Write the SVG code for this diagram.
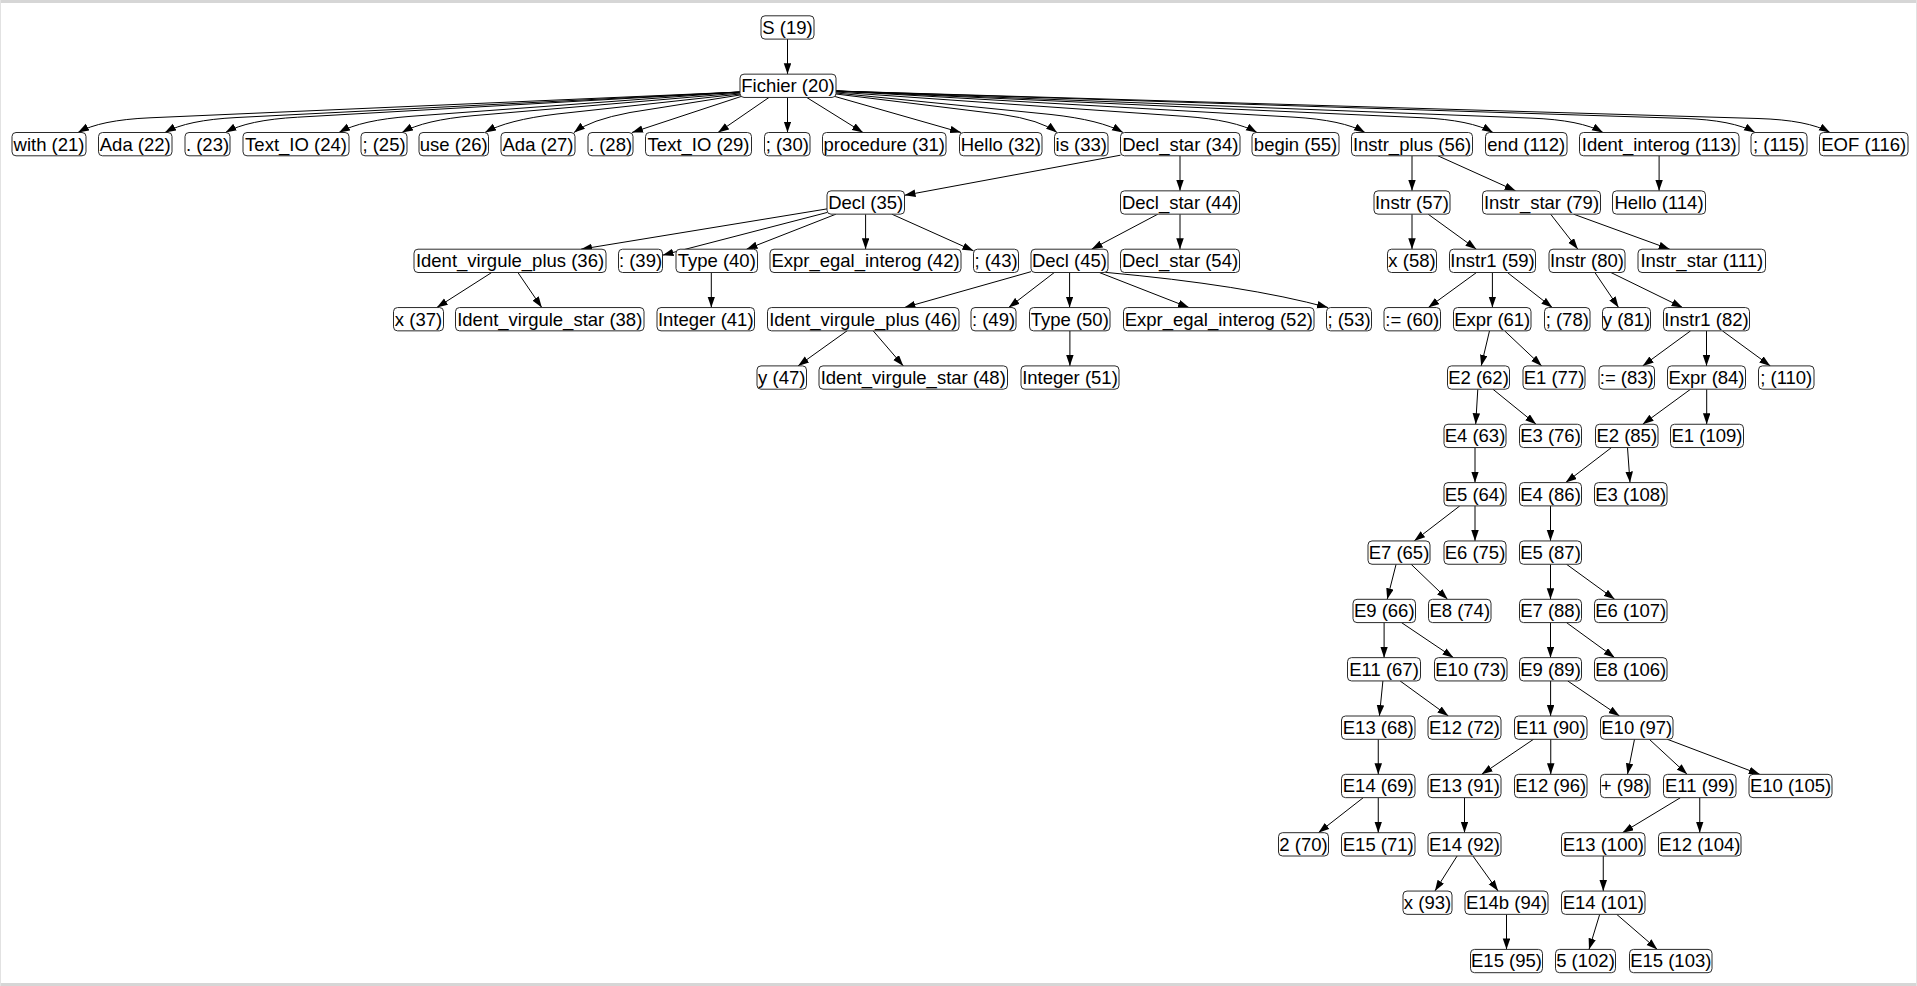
<svg xmlns="http://www.w3.org/2000/svg" width="1917" height="986" viewBox="0 0 1917 986">
<style>
.node rect{fill:#fff;stroke:#2a2a2a;stroke-width:1;}
.node text{font-family:"Liberation Sans",Arial,sans-serif;font-size:18.5px;fill:#000;text-anchor:middle;}
.edges path{fill:none;stroke:#000;stroke-width:1;marker-end:url(#ah);}
</style>
<defs>
<marker id="ah" markerWidth="11" markerHeight="8" refX="11" refY="3.75" orient="auto" markerUnits="userSpaceOnUse"><path d="M0,0 L11,3.75 L0,7.5 z" fill="#000"/></marker>
</defs>
<rect x="0" y="0" width="1917" height="986" fill="#fff"/>
<rect x="0" y="0" width="1917" height="3" fill="#d6d6d6"/>
<rect x="0" y="983" width="1917" height="3" fill="#d6d6d6"/>
<rect x="0" y="0" width="1" height="986" fill="#e2e2e2"/>
<rect x="1916" y="0" width="1" height="986" fill="#e2e2e2"/>
<g class="edges" id="edges">
<path d="M787.5,39.1 L787.5,74.15"/>
<path d="M740,92 L150,117.8 Q100,120 78,132.5"/>
<path d="M740,92 L237,117.5 Q187,120 165,132.5"/>
<path d="M740,92 L297.5,117.2 Q247.5,120 225.5,132.5"/>
<path d="M740,92 L411,116.3 Q361,120 339,132.5"/>
<path d="M740,93 L474,115.6 Q424,120 402,132.5"/>
<path d="M740,94 L557,114 Q507,120 485,132.5"/>
<path d="M740,95 L630,112.5 Q590,120 574,132.5"/>
<path d="M741,96.5 L632,132.5"/>
<path d="M769,97.45 L718,132.5"/>
<path d="M787.5,97.45 L787.5,132.5"/>
<path d="M806.7,97.45 L863,132.5"/>
<path d="M835,96.5 L961,132.5"/>
<path d="M836,94 L1001,114.3 Q1041,120 1057,132.5"/>
<path d="M836,93 L1051,114.5 Q1101,120 1123,132.5"/>
<path d="M836,92 L1185,116.4 Q1235,120 1257,132.5"/>
<path d="M836,91 L1293,117.1 Q1343,120 1365,132.5"/>
<path d="M836,91 L1421,117.7 Q1471,120 1493,132.5"/>
<path d="M836,91 L1531,118.1 Q1581,120 1603,132.5"/>
<path d="M836,91 L1683,118.4 Q1733,120 1755,132.5"/>
<path d="M836,91 L1758,118.5 Q1808,120 1830,132.5"/>
<path d="M1120.5,155.2 L904.5,195.3"/>
<path d="M1180,155.8 L1180,190.85"/>
<path d="M827,208.9 L581,249.2"/>
<path d="M827,212.5 L662.5,255.2"/>
<path d="M836,214.15 L746.5,249.2"/>
<path d="M865.6,214.15 L865.6,249.2"/>
<path d="M891.8,214.15 L973.5,250.8"/>
<path d="M1157.9,214.15 L1091.6,249.2"/>
<path d="M1180,214.15 L1180,249.2"/>
<path d="M1412,155.8 L1412,190.85"/>
<path d="M1437.9,155.8 L1515.6,190.85"/>
<path d="M1659.1,155.8 L1659.1,190.85"/>
<path d="M491.7,272.5 L436.8,307.55"/>
<path d="M517.9,272.5 L541.8,307.55"/>
<path d="M711.3,272.5 L711.3,307.55"/>
<path d="M1031,271.7 L904.4,307.55"/>
<path d="M1054.3,272.5 L1008.7,307.55"/>
<path d="M1069.6,272.5 L1069.6,307.55"/>
<path d="M1099.3,272.5 L1189,307.55"/>
<path d="M1105,272.3 Q1245,285 1328,307.55"/>
<path d="M1412,214.15 L1412,249.2"/>
<path d="M1428.1,214.15 L1476.4,249.2"/>
<path d="M1550.6,214.15 L1577.9,249.2"/>
<path d="M1573.5,214.15 L1669.75,249.2"/>
<path d="M1476.5,272.5 L1428.3,307.55"/>
<path d="M1492.4,272.5 L1492.4,307.55"/>
<path d="M1507.4,272.5 L1552.3,307.55"/>
<path d="M1594.9,272.5 L1618.6,307.55"/>
<path d="M1610.9,272.5 L1682.6,307.55"/>
<path d="M847,330.85 L798,365.9"/>
<path d="M873.2,330.85 L903.3,365.9"/>
<path d="M1069.9,330.85 L1069.9,365.9"/>
<path d="M1489.5,330.85 L1481.2,365.9"/>
<path d="M1504.6,330.85 L1541.7,365.9"/>
<path d="M1690.6,330.85 L1642.7,365.9"/>
<path d="M1706.5,330.85 L1706.5,365.9"/>
<path d="M1722.4,330.85 L1770.3,365.9"/>
<path d="M1477.8,389.2 L1475.7,424.25"/>
<path d="M1492.9,389.2 L1536.1,424.25"/>
<path d="M1690.6,389.2 L1642.7,424.25"/>
<path d="M1706.7,389.2 L1706.7,424.25"/>
<path d="M1475,447.55 L1475,482.6"/>
<path d="M1611.5,447.55 L1565.7,482.6"/>
<path d="M1627.5,447.55 L1630,482.6"/>
<path d="M1459.8,505.9 L1414.2,540.95"/>
<path d="M1475,505.9 L1475,540.95"/>
<path d="M1550.5,505.9 L1550.5,540.95"/>
<path d="M1396.1,564.25 L1387.2,599.3"/>
<path d="M1411.1,564.25 L1447.6,599.3"/>
<path d="M1550.5,564.25 L1550.5,599.3"/>
<path d="M1566.5,564.25 L1614.7,599.3"/>
<path d="M1384.1,622.6 L1384.1,657.65"/>
<path d="M1401.5,622.6 L1453.5,657.65"/>
<path d="M1550.5,622.6 L1550.5,657.65"/>
<path d="M1566.5,622.6 L1614.7,657.65"/>
<path d="M1382.9,680.95 L1379.4,716"/>
<path d="M1400.1,680.95 L1448.4,716"/>
<path d="M1550.6,680.95 L1550.6,716"/>
<path d="M1567.7,680.95 L1619.5,716"/>
<path d="M1378.25,739.3 L1378.25,774.35"/>
<path d="M1533.5,739.3 L1481.7,774.35"/>
<path d="M1550.75,739.3 L1550.75,774.35"/>
<path d="M1634.5,739.3 L1627.5,774.35"/>
<path d="M1649.3,739.3 L1687.2,774.35"/>
<path d="M1667.4,739.3 L1759.8,774.35"/>
<path d="M1363.3,797.65 L1318.4,832.7"/>
<path d="M1378.25,797.65 L1378.25,832.7"/>
<path d="M1464.5,797.65 L1464.5,832.7"/>
<path d="M1680.5,797.65 L1622.5,832.7"/>
<path d="M1699.75,797.65 L1699.75,832.7"/>
<path d="M1457.1,856 L1434.9,891.05"/>
<path d="M1472.9,856 L1498.1,891.05"/>
<path d="M1603.25,856 L1603.25,891.05"/>
<path d="M1506.5,914.35 L1506.5,949.4"/>
<path d="M1599.7,914.35 L1589,949.4"/>
<path d="M1616.7,914.35 L1657.3,949.4"/>
</g>
<g id="n19" class="node"><rect x="761" y="15.8" width="53" height="23.3" rx="4"/><text x="787.5" y="33.8">S (19)</text></g>
<g id="n20" class="node"><rect x="740" y="74.15" width="96" height="23.3" rx="4"/><text x="788" y="92.15">Fichier (20)</text></g>
<g id="n21" class="node"><rect x="12" y="132.5" width="74" height="23.3" rx="4"/><text x="49" y="150.5">with (21)</text></g>
<g id="n22" class="node"><rect x="98.5" y="132.5" width="73.5" height="23.3" rx="4"/><text x="135.25" y="150.5">Ada (22)</text></g>
<g id="n23" class="node"><rect x="185" y="132.5" width="45" height="23.3" rx="4"/><text x="207.5" y="150.5">. (23)</text></g>
<g id="n24" class="node"><rect x="243" y="132.5" width="106" height="23.3" rx="4"/><text x="296" y="150.5">Text_IO (24)</text></g>
<g id="n25" class="node"><rect x="361" y="132.5" width="46" height="23.3" rx="4"/><text x="384" y="150.5">; (25)</text></g>
<g id="n26" class="node"><rect x="419" y="132.5" width="69.5" height="23.3" rx="4"/><text x="453.75" y="150.5">use (26)</text></g>
<g id="n27" class="node"><rect x="501" y="132.5" width="74" height="23.3" rx="4"/><text x="538" y="150.5">Ada (27)</text></g>
<g id="n28" class="node"><rect x="588" y="132.5" width="45" height="23.3" rx="4"/><text x="610.5" y="150.5">. (28)</text></g>
<g id="n29" class="node"><rect x="645.5" y="132.5" width="106" height="23.3" rx="4"/><text x="698.5" y="150.5">Text_IO (29)</text></g>
<g id="n30" class="node"><rect x="764.5" y="132.5" width="45.5" height="23.3" rx="4"/><text x="787.25" y="150.5">; (30)</text></g>
<g id="n31" class="node"><rect x="822.5" y="132.5" width="123.5" height="23.3" rx="4"/><text x="884.25" y="150.5">procedure (31)</text></g>
<g id="n32" class="node"><rect x="959.5" y="132.5" width="82.5" height="23.3" rx="4"/><text x="1000.75" y="150.5">Hello (32)</text></g>
<g id="n33" class="node"><rect x="1054.5" y="132.5" width="53.5" height="23.3" rx="4"/><text x="1081.25" y="150.5">is (33)</text></g>
<g id="n34" class="node"><rect x="1120.5" y="132.5" width="119.5" height="23.3" rx="4"/><text x="1180.25" y="150.5">Decl_star (34)</text></g>
<g id="n55" class="node"><rect x="1252" y="132.5" width="87" height="23.3" rx="4"/><text x="1295.5" y="150.5">begin (55)</text></g>
<g id="n56" class="node"><rect x="1351.5" y="132.5" width="121" height="23.3" rx="4"/><text x="1412" y="150.5">Instr_plus (56)</text></g>
<g id="n112" class="node"><rect x="1485.5" y="132.5" width="81.5" height="23.3" rx="4"/><text x="1526.25" y="150.5">end (112)</text></g>
<g id="n113" class="node"><rect x="1579.5" y="132.5" width="159.5" height="23.3" rx="4"/><text x="1659.25" y="150.5">Ident_interog (113)</text></g>
<g id="n115" class="node"><rect x="1751" y="132.5" width="56" height="23.3" rx="4"/><text x="1779" y="150.5">; (115)</text></g>
<g id="n116" class="node"><rect x="1819.5" y="132.5" width="88.5" height="23.3" rx="4"/><text x="1863.75" y="150.5">EOF (116)</text></g>
<g id="n35" class="node"><rect x="827" y="190.85" width="77.5" height="23.3" rx="4"/><text x="865.75" y="208.85">Decl (35)</text></g>
<g id="n44" class="node"><rect x="1120.5" y="190.85" width="119" height="23.3" rx="4"/><text x="1180" y="208.85">Decl_star (44)</text></g>
<g id="n57" class="node"><rect x="1374" y="190.85" width="76" height="23.3" rx="4"/><text x="1412" y="208.85">Instr (57)</text></g>
<g id="n79" class="node"><rect x="1482.5" y="190.85" width="118" height="23.3" rx="4"/><text x="1541.5" y="208.85">Instr_star (79)</text></g>
<g id="n114" class="node"><rect x="1612.5" y="190.85" width="93" height="23.3" rx="4"/><text x="1659" y="208.85">Hello (114)</text></g>
<g id="n36" class="node"><rect x="414" y="249.2" width="192" height="23.3" rx="4"/><text x="510" y="267.2">Ident_virgule_plus (36)</text></g>
<g id="n39" class="node"><rect x="618.5" y="249.2" width="44" height="23.3" rx="4"/><text x="640.5" y="267.2">: (39)</text></g>
<g id="n40" class="node"><rect x="676" y="249.2" width="81.5" height="23.3" rx="4"/><text x="716.75" y="267.2">Type (40)</text></g>
<g id="n42" class="node"><rect x="770" y="249.2" width="191" height="23.3" rx="4"/><text x="865.5" y="267.2">Expr_egal_interog (42)</text></g>
<g id="n43" class="node"><rect x="973.5" y="249.2" width="45" height="23.3" rx="4"/><text x="996" y="267.2">; (43)</text></g>
<g id="n45" class="node"><rect x="1031" y="249.2" width="77" height="23.3" rx="4"/><text x="1069.5" y="267.2">Decl (45)</text></g>
<g id="n54" class="node"><rect x="1120.5" y="249.2" width="119" height="23.3" rx="4"/><text x="1180" y="267.2">Decl_star (54)</text></g>
<g id="n58" class="node"><rect x="1387.5" y="249.2" width="49" height="23.3" rx="4"/><text x="1412" y="267.2">x (58)</text></g>
<g id="n59" class="node"><rect x="1449.5" y="249.2" width="86" height="23.3" rx="4"/><text x="1492.5" y="267.2">Instr1 (59)</text></g>
<g id="n80" class="node"><rect x="1549" y="249.2" width="76" height="23.3" rx="4"/><text x="1587" y="267.2">Instr (80)</text></g>
<g id="n111" class="node"><rect x="1638" y="249.2" width="127.5" height="23.3" rx="4"/><text x="1701.75" y="267.2">Instr_star (111)</text></g>
<g id="n37" class="node"><rect x="393.5" y="307.55" width="50" height="23.3" rx="4"/><text x="418.5" y="325.55">x (37)</text></g>
<g id="n38" class="node"><rect x="455.5" y="307.55" width="188.5" height="23.3" rx="4"/><text x="549.75" y="325.55">Ident_virgule_star (38)</text></g>
<g id="n41" class="node"><rect x="657" y="307.55" width="97.5" height="23.3" rx="4"/><text x="705.75" y="325.55">Integer (41)</text></g>
<g id="n46" class="node"><rect x="767.5" y="307.55" width="191.5" height="23.3" rx="4"/><text x="863.25" y="325.55">Ident_virgule_plus (46)</text></g>
<g id="n49" class="node"><rect x="971" y="307.55" width="45" height="23.3" rx="4"/><text x="993.5" y="325.55">: (49)</text></g>
<g id="n50" class="node"><rect x="1029.5" y="307.55" width="80.5" height="23.3" rx="4"/><text x="1069.75" y="325.55">Type (50)</text></g>
<g id="n52" class="node"><rect x="1123.5" y="307.55" width="190.5" height="23.3" rx="4"/><text x="1218.75" y="325.55">Expr_egal_interog (52)</text></g>
<g id="n53" class="node"><rect x="1326.5" y="307.55" width="45" height="23.3" rx="4"/><text x="1349" y="325.55">; (53)</text></g>
<g id="n60" class="node"><rect x="1384" y="307.55" width="56.5" height="23.3" rx="4"/><text x="1412.25" y="325.55">:= (60)</text></g>
<g id="n61" class="node"><rect x="1453.5" y="307.55" width="77.5" height="23.3" rx="4"/><text x="1492.25" y="325.55">Expr (61)</text></g>
<g id="n78" class="node"><rect x="1544.5" y="307.55" width="45.5" height="23.3" rx="4"/><text x="1567.25" y="325.55">; (78)</text></g>
<g id="n81" class="node"><rect x="1602.5" y="307.55" width="48" height="23.3" rx="4"/><text x="1626.5" y="325.55">y (81)</text></g>
<g id="n82" class="node"><rect x="1663.5" y="307.55" width="86" height="23.3" rx="4"/><text x="1706.5" y="325.55">Instr1 (82)</text></g>
<g id="n47" class="node"><rect x="757" y="365.9" width="49.5" height="23.3" rx="4"/><text x="781.75" y="383.9">y (47)</text></g>
<g id="n48" class="node"><rect x="819" y="365.9" width="188.5" height="23.3" rx="4"/><text x="913.25" y="383.9">Ident_virgule_star (48)</text></g>
<g id="n51" class="node"><rect x="1021" y="365.9" width="98" height="23.3" rx="4"/><text x="1070" y="383.9">Integer (51)</text></g>
<g id="n62" class="node"><rect x="1447.5" y="365.9" width="62" height="23.3" rx="4"/><text x="1478.5" y="383.9">E2 (62)</text></g>
<g id="n77" class="node"><rect x="1523" y="365.9" width="62" height="23.3" rx="4"/><text x="1554" y="383.9">E1 (77)</text></g>
<g id="n83" class="node"><rect x="1599" y="365.9" width="55.5" height="23.3" rx="4"/><text x="1626.75" y="383.9">:= (83)</text></g>
<g id="n84" class="node"><rect x="1667.5" y="365.9" width="78" height="23.3" rx="4"/><text x="1706.5" y="383.9">Expr (84)</text></g>
<g id="n110" class="node"><rect x="1758.5" y="365.9" width="55.5" height="23.3" rx="4"/><text x="1786.25" y="383.9">; (110)</text></g>
<g id="n63" class="node"><rect x="1444" y="424.25" width="62" height="23.3" rx="4"/><text x="1475" y="442.25">E4 (63)</text></g>
<g id="n76" class="node"><rect x="1519.5" y="424.25" width="62" height="23.3" rx="4"/><text x="1550.5" y="442.25">E3 (76)</text></g>
<g id="n85" class="node"><rect x="1595.5" y="424.25" width="62.5" height="23.3" rx="4"/><text x="1626.75" y="442.25">E2 (85)</text></g>
<g id="n109" class="node"><rect x="1670.5" y="424.25" width="73" height="23.3" rx="4"/><text x="1707" y="442.25">E1 (109)</text></g>
<g id="n64" class="node"><rect x="1444" y="482.6" width="62" height="23.3" rx="4"/><text x="1475" y="500.6">E5 (64)</text></g>
<g id="n86" class="node"><rect x="1519.5" y="482.6" width="62" height="23.3" rx="4"/><text x="1550.5" y="500.6">E4 (86)</text></g>
<g id="n108" class="node"><rect x="1594.5" y="482.6" width="72.5" height="23.3" rx="4"/><text x="1630.75" y="500.6">E3 (108)</text></g>
<g id="n65" class="node"><rect x="1368" y="540.95" width="62" height="23.3" rx="4"/><text x="1399" y="558.95">E7 (65)</text></g>
<g id="n75" class="node"><rect x="1444" y="540.95" width="62" height="23.3" rx="4"/><text x="1475" y="558.95">E6 (75)</text></g>
<g id="n87" class="node"><rect x="1519.5" y="540.95" width="62" height="23.3" rx="4"/><text x="1550.5" y="558.95">E5 (87)</text></g>
<g id="n66" class="node"><rect x="1353" y="599.3" width="62.5" height="23.3" rx="4"/><text x="1384.25" y="617.3">E9 (66)</text></g>
<g id="n74" class="node"><rect x="1428.5" y="599.3" width="62.5" height="23.3" rx="4"/><text x="1459.75" y="617.3">E8 (74)</text></g>
<g id="n88" class="node"><rect x="1519.5" y="599.3" width="62" height="23.3" rx="4"/><text x="1550.5" y="617.3">E7 (88)</text></g>
<g id="n107" class="node"><rect x="1594.5" y="599.3" width="72.5" height="23.3" rx="4"/><text x="1630.75" y="617.3">E6 (107)</text></g>
<g id="n67" class="node"><rect x="1347.5" y="657.65" width="73" height="23.3" rx="4"/><text x="1384" y="675.65">E11 (67)</text></g>
<g id="n73" class="node"><rect x="1434.5" y="657.65" width="72.5" height="23.3" rx="4"/><text x="1470.75" y="675.65">E10 (73)</text></g>
<g id="n89" class="node"><rect x="1519.5" y="657.65" width="62" height="23.3" rx="4"/><text x="1550.5" y="675.65">E9 (89)</text></g>
<g id="n106" class="node"><rect x="1594.5" y="657.65" width="72.5" height="23.3" rx="4"/><text x="1630.75" y="675.65">E8 (106)</text></g>
<g id="n68" class="node"><rect x="1341.5" y="716" width="73.5" height="23.3" rx="4"/><text x="1378.25" y="734">E13 (68)</text></g>
<g id="n72" class="node"><rect x="1428" y="716" width="73" height="23.3" rx="4"/><text x="1464.5" y="734">E12 (72)</text></g>
<g id="n90" class="node"><rect x="1514.5" y="716" width="72.5" height="23.3" rx="4"/><text x="1550.75" y="734">E11 (90)</text></g>
<g id="n97" class="node"><rect x="1600.5" y="716" width="72.5" height="23.3" rx="4"/><text x="1636.75" y="734">E10 (97)</text></g>
<g id="n69" class="node"><rect x="1341.5" y="774.35" width="73.5" height="23.3" rx="4"/><text x="1378.25" y="792.35">E14 (69)</text></g>
<g id="n91" class="node"><rect x="1428" y="774.35" width="73" height="23.3" rx="4"/><text x="1464.5" y="792.35">E13 (91)</text></g>
<g id="n96" class="node"><rect x="1514.5" y="774.35" width="72.5" height="23.3" rx="4"/><text x="1550.75" y="792.35">E12 (96)</text></g>
<g id="n98" class="node"><rect x="1600.5" y="774.35" width="49.5" height="23.3" rx="4"/><text x="1625.25" y="792.35">+ (98)</text></g>
<g id="n99" class="node"><rect x="1663.5" y="774.35" width="72.5" height="23.3" rx="4"/><text x="1699.75" y="792.35">E11 (99)</text></g>
<g id="n105" class="node"><rect x="1749" y="774.35" width="83" height="23.3" rx="4"/><text x="1790.5" y="792.35">E10 (105)</text></g>
<g id="n70" class="node"><rect x="1278.5" y="832.7" width="50" height="23.3" rx="4"/><text x="1303.5" y="850.7">2 (70)</text></g>
<g id="n71" class="node"><rect x="1341.5" y="832.7" width="73.5" height="23.3" rx="4"/><text x="1378.25" y="850.7">E15 (71)</text></g>
<g id="n92" class="node"><rect x="1428" y="832.7" width="73" height="23.3" rx="4"/><text x="1464.5" y="850.7">E14 (92)</text></g>
<g id="n100" class="node"><rect x="1561.5" y="832.7" width="83.5" height="23.3" rx="4"/><text x="1603.25" y="850.7">E13 (100)</text></g>
<g id="n104" class="node"><rect x="1658.5" y="832.7" width="82.5" height="23.3" rx="4"/><text x="1699.75" y="850.7">E12 (104)</text></g>
<g id="n93" class="node"><rect x="1403" y="891.05" width="49" height="23.3" rx="4"/><text x="1427.5" y="909.05">x (93)</text></g>
<g id="n94" class="node"><rect x="1465" y="891.05" width="83" height="23.3" rx="4"/><text x="1506.5" y="909.05">E14b (94)</text></g>
<g id="n101" class="node"><rect x="1561.5" y="891.05" width="83.5" height="23.3" rx="4"/><text x="1603.25" y="909.05">E14 (101)</text></g>
<g id="n95" class="node"><rect x="1470.5" y="949.4" width="72" height="23.3" rx="4"/><text x="1506.5" y="967.4">E15 (95)</text></g>
<g id="n102" class="node"><rect x="1555.5" y="949.4" width="60" height="23.3" rx="4"/><text x="1585.5" y="967.4">5 (102)</text></g>
<g id="n103" class="node"><rect x="1629.5" y="949.4" width="82.5" height="23.3" rx="4"/><text x="1670.75" y="967.4">E15 (103)</text></g>
</svg>
